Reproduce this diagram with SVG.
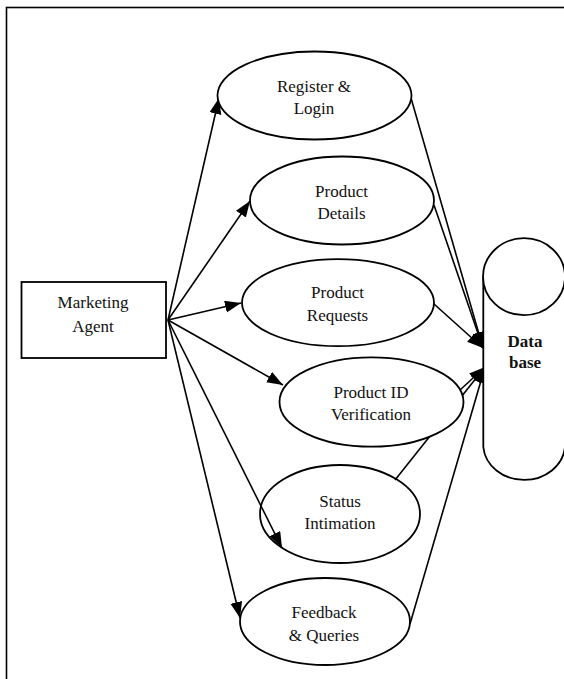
<svg xmlns="http://www.w3.org/2000/svg" width="564" height="679" viewBox="0 0 564 679">
  <style>
    .frame { fill: none; stroke: #000; stroke-width: 1.6; }
    .node { fill: #fff; stroke: #000; stroke-width: 1.8; }
    .label { font-family: "Liberation Serif", "Times New Roman", serif; font-size: 17px; fill: #111; text-anchor: middle; }
    .bold { font-weight: bold; }
    .edge { fill: none; stroke: #000; stroke-width: 1.6; }
  </style>
  <defs>
    <marker id="arrow" markerUnits="userSpaceOnUse" markerWidth="17" markerHeight="13" refX="16" refY="6" orient="auto">
      <path d="M0,0 L16,6 L0,12 z" fill="#000"/>
    </marker>
  </defs>

  <rect width="564" height="679" fill="#fff"/>
  <!-- outer frame, open to the right and bottom -->
  <rect class="frame" x="6.5" y="7.5" width="600" height="700"/>

  <!-- connectors -->
  <g id="connectors">
    <!-- from Marketing Agent -->
    <line class="edge" x1="168" y1="320" x2="219" y2="98" marker-end="url(#arrow)"/>
    <line class="edge" x1="168" y1="320" x2="250" y2="201" marker-end="url(#arrow)"/>
    <line class="edge" x1="168" y1="320" x2="241" y2="303" marker-end="url(#arrow)"/>
    <line class="edge" x1="168" y1="320" x2="283" y2="385" marker-end="url(#arrow)"/>
    <line class="edge" x1="168" y1="320" x2="282" y2="548" marker-end="url(#arrow)"/>
    <line class="edge" x1="168" y1="320" x2="240" y2="618" marker-end="url(#arrow)"/>
    <!-- to Data base -->
    <line class="edge" x1="411" y1="98" x2="483" y2="348" marker-end="url(#arrow)"/>
    <line class="edge" x1="434" y1="205" x2="483" y2="348" marker-end="url(#arrow)"/>
    <line class="edge" x1="434" y1="304" x2="483" y2="348" marker-end="url(#arrow)"/>
    <line class="edge" x1="460" y1="390" x2="485" y2="367" marker-end="url(#arrow)"/>
    <line class="edge" x1="395" y1="480" x2="485" y2="367" marker-end="url(#arrow)"/>
    <line class="edge" x1="410" y1="624" x2="485" y2="367" marker-end="url(#arrow)"/>
  </g>

  <g id="marketing-agent">
    <rect class="node" x="21.5" y="282" width="144.5" height="76"/>
    <text class="label" x="93" y="308">Marketing</text>
    <text class="label" x="93" y="331.5">Agent</text>
  </g>

  <g id="register-login">
    <ellipse class="node" cx="314.5" cy="95.5" rx="97" ry="44"/>
    <text class="label" x="314" y="91.5">Register &amp;</text>
    <text class="label" x="314" y="114">Login</text>
  </g>

  <g id="product-details">
    <ellipse class="node" cx="342" cy="200.5" rx="92" ry="44"/>
    <text class="label" x="341.5" y="197">Product</text>
    <text class="label" x="341.5" y="218.5">Details</text>
  </g>

  <g id="product-requests">
    <ellipse class="node" cx="338" cy="302.7" rx="96" ry="43.5"/>
    <text class="label" x="337.5" y="298.3">Product</text>
    <text class="label" x="337.5" y="321">Requests</text>
  </g>

  <g id="product-id-verification">
    <ellipse class="node" cx="371.5" cy="402" rx="92" ry="44.7"/>
    <text class="label" x="371" y="397.5">Product ID</text>
    <text class="label" x="371" y="420">Verification</text>
  </g>

  <g id="status-intimation">
    <ellipse class="node" cx="340" cy="514" rx="80" ry="49" fill="none" style="fill:none"/>
    <text class="label" x="340" y="506.7">Status</text>
    <text class="label" x="340" y="529">Intimation</text>
  </g>

  <g id="feedback-queries">
    <ellipse class="node" cx="325" cy="621.5" rx="85" ry="43.5"/>
    <text class="label" x="324" y="618.3">Feedback</text>
    <text class="label" x="324" y="640.7">&amp; Queries</text>
  </g>

  <g id="database">
    <path class="node" d="M483.3,276.7 L483.3,447 A41,36 0 0 0 565,447 L565,276.7"/>
    <ellipse class="node" cx="524" cy="276.7" rx="41" ry="38.5"/>
    <text class="label bold" x="525" y="346.7">Data</text>
    <text class="label bold" x="525" y="368.3">base</text>
  </g>
</svg>
